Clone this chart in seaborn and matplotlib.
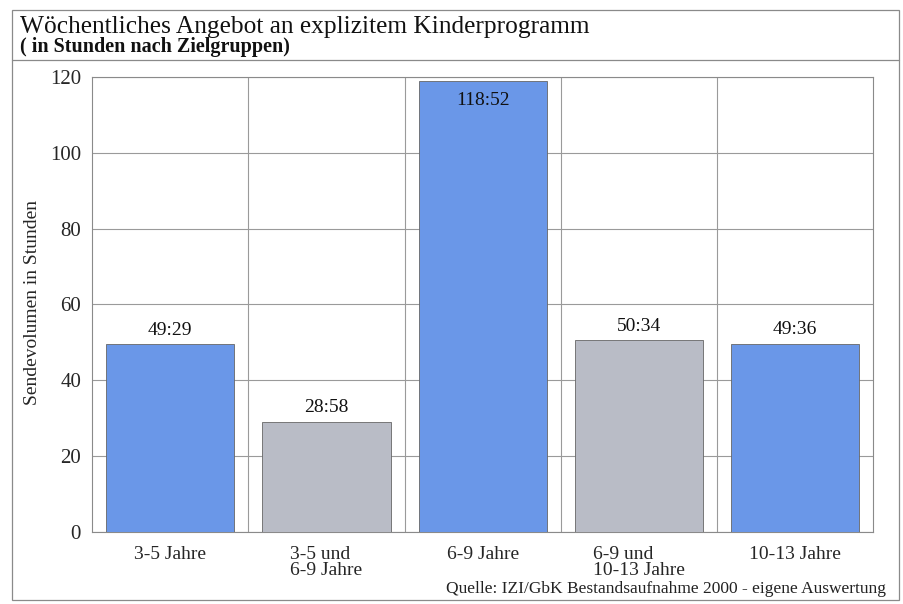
import matplotlib
matplotlib.use("Agg")
import matplotlib.pyplot as plt
import seaborn as sns
import pandas as pd
from matplotlib.patches import Rectangle
from matplotlib.lines import Line2D

categories = ["3-5 Jahre", "3-5 und\n6-9 Jahre", "6-9 Jahre", "6-9 und\n10-13 Jahre", "10-13 Jahre"]
values = [49 + 29/60, 28 + 58/60, 118 + 52/60, 50 + 34/60, 49 + 36/60]
value_labels = ["49:29", "28:58", "118:52", "50:34", "49:36"]
bar_colors = ["#6a97e8", "#b9bcc6", "#6a97e8", "#b9bcc6", "#6a97e8"]
yticks = [0, 20, 40, 60, 80, 100, 120]

sns.set_theme(style="white")
plt.rcParams['font.family'] = ['Liberation Serif', 'DejaVu Serif']

df = pd.DataFrame({"cat": categories, "val": values})

fig = plt.figure(figsize=(9.04, 6.04), dpi=100)
ax = fig.add_axes([0.102, 0.119, 0.864, 0.754])
sns.barplot(data=df, x="cat", y="val", hue="cat", palette=bar_colors, legend=False,
            saturation=1, width=0.82, edgecolor="#666666", linewidth=0.6, ax=ax, zorder=3)

ax.set_ylim(0, 120)
ax.set_xlim(-0.5, len(categories) - 0.5)
ax.set_yticks(yticks)
ax.set_yticklabels([str(t) for t in yticks], fontsize=15)
ax.set_xticks(range(len(categories)))
ax.set_xticklabels(categories, fontsize=14, linespacing=0.95, multialignment="left")
ax.set_xticks([i + 0.5 for i in range(len(categories) - 1)], minor=True)
ax.grid(axis="y", which="major", color="#9a9a9a", linewidth=0.8, zorder=0)
ax.grid(axis="x", which="minor", color="#9a9a9a", linewidth=0.8, zorder=0)
ax.grid(axis="x", which="major", visible=False)
ax.tick_params(axis="y", which="major", length=0, pad=8)
ax.tick_params(axis="x", which="both", length=0, pad=10)
ax.set_xlabel("")
ax.set_ylabel("Sendevolumen in Stunden", fontsize=14)
ax.yaxis.set_label_coords(-0.066, 0.505)
for s in ax.spines.values():
    s.set_color("#8a8a8a")
    s.set_linewidth(0.8)

for i, (v, lab) in enumerate(zip(values, value_labels)):
    if v > 110:
        ax.text(i, v - 3.0, lab, ha="center", va="top", fontsize=14, color="#111111", zorder=4)
    else:
        ax.text(i, v + 1.5, lab, ha="center", va="bottom", fontsize=14, color="#111111", zorder=4)

# outer frame and title separator
fig.patches.append(Rectangle((0.013, 0.006), 0.981, 0.978, transform=fig.transFigure,
                             fill=False, edgecolor="#8a8a8a", linewidth=0.9))
fig.lines.append(Line2D([0.013, 0.994], [0.900, 0.900], transform=fig.transFigure,
                        color="#8a8a8a", linewidth=0.9))

fig.text(0.022, 0.955, "Wöchentliches Angebot an explizitem Kinderprogramm",
         fontsize=18.3, ha="left", va="center", color="#111111")
fig.text(0.022, 0.922, "( in Stunden nach Zielgruppen)", fontsize=14.5,
         fontweight="bold", ha="left", va="center", color="#111111")
fig.text(0.980, 0.018, "Quelle: IZI/GbK Bestandsaufnahme 2000 - eigene Auswertung",
         fontsize=12.5, ha="right", va="baseline", color="#222222")

fig.savefig("out.png", dpi=100)
